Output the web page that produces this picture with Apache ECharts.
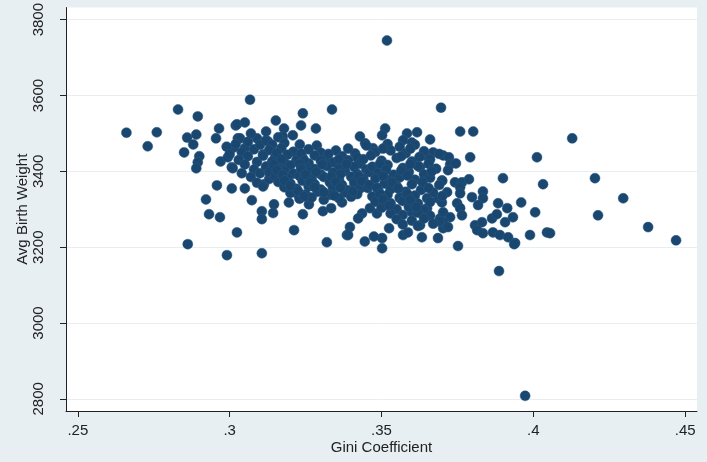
<!DOCTYPE HTML>
<html lang="en">

<head>
	<meta charset="utf-8">
	<title>Avg Birth Weight vs Gini Coefficient</title>
	<style>
		html, body {
			margin: 0;
			padding: 0;
			background: #e8eff2;
		}

		#chart {
			width: 707px;
			height: 462px;
		}
	</style>
</head>

<body>
	<div id="chart"></div>

	<script src="https://cdn.jsdelivr.net/npm/echarts@6/dist/echarts.min.js"></script>

	<script>
		// tick labels
		var xTicks = [0.25, 0.3, 0.35, 0.4, 0.45];
		var yTicks = [2800, 3000, 3200, 3400, 3600, 3800];

		// [gini, avg birth weight]
		var sparsePoints = [
			[0.266, 3502], [0.273, 3466], [0.276, 3503], [0.283, 3563], [0.2895, 3545], [0.286, 3489],
			[0.289, 3497], [0.288, 3471], [0.285, 3450], [0.290, 3440], [0.2895, 3424], [0.289, 3408],
			[0.2965, 3513], [0.2955, 3487], [0.297, 3426], [0.2994, 3437], [0.3007, 3411], [0.302, 3521],
			[0.3027, 3487], [0.2958, 3363], [0.3007, 3355], [0.2922, 3326], [0.2932, 3287], [0.2968, 3279],
			[0.3024, 3239], [0.2862, 3208], [0.2991, 3179],
			[0.3067, 3589], [0.3337, 3563], [0.3024, 3524], [0.305, 3529], [0.3152, 3534], [0.3241, 3553],
			[0.3235, 3521], [0.3284, 3513], [0.3179, 3513], [0.3208, 3495], [0.3175, 3492], [0.3034, 3487],
			[0.309, 3487], [0.3126, 3479], [0.3014, 3463], [0.305, 3461], [0.3287, 3468], [0.3231, 3471],
			[0.305, 3355], [0.3073, 3324], [0.3113, 3366], [0.3146, 3313], [0.3106, 3295], [0.3106, 3274],
			[0.3143, 3290], [0.3195, 3318], [0.3225, 3339], [0.3241, 3287], [0.3261, 3313], [0.3307, 3295],
			[0.3334, 3303], [0.337, 3318], [0.3212, 3245], [0.332, 3213], [0.3386, 3232], [0.3106, 3184],
			[0.3696, 3568], [0.3512, 3513], [0.3502, 3495], [0.3429, 3492], [0.3446, 3474], [0.3584, 3500],
			[0.3617, 3503], [0.3571, 3482], [0.36, 3476], [0.366, 3484], [0.3472, 3461], [0.3413, 3447],
			[0.338, 3416], [0.367, 3450], [0.3643, 3442], [0.3627, 3411], [0.3703, 3442],
			[0.3396, 3253], [0.339, 3232], [0.3436, 3289], [0.3423, 3276], [0.3485, 3289], [0.3525, 3250],
			[0.3502, 3224], [0.3502, 3197], [0.3571, 3232], [0.3587, 3239], [0.3633, 3226], [0.3686, 3224],
			[0.3627, 3258], [0.3693, 3276], [0.3703, 3250], [0.36, 3292], [0.365, 3303], [0.3561, 3329],
			[0.3686, 3329], [0.3512, 3311], [0.3462, 3303], [0.3445, 3215], [0.3475, 3228]
		];

		var rightPoints = [
			[0.3759, 3505], [0.3802, 3505], [0.4012, 3437], [0.3792, 3437], [0.3722, 3437], [0.3726, 3418],
			[0.3745, 3421], [0.3719, 3403], [0.39, 3382], [0.4032, 3366], [0.3699, 3376], [0.3742, 3371],
			[0.3765, 3371], [0.3788, 3379], [0.3759, 3358], [0.3716, 3345], [0.3759, 3342], [0.3798, 3332],
			[0.3834, 3347], [0.3834, 3329], [0.3818, 3311], [0.3699, 3318], [0.3749, 3316], [0.3759, 3303],
			[0.3884, 3316], [0.3914, 3303], [0.396, 3318], [0.4006, 3292], [0.3703, 3292], [0.3726, 3279],
			[0.3765, 3284], [0.3703, 3266], [0.3864, 3276], [0.388, 3287], [0.3907, 3266], [0.3933, 3279],
			[0.3808, 3258], [0.3831, 3266], [0.3815, 3245], [0.3834, 3237], [0.3719, 3253], [0.3867, 3239],
			[0.389, 3232], [0.3917, 3226], [0.394, 3211], [0.3989, 3232], [0.4045, 3239], [0.3752, 3203],
			[0.4128, 3487], [0.4203, 3382], [0.4296, 3329], [0.4213, 3284], [0.4378, 3253], [0.447, 3218],
			[0.4055, 3237], [0.3937, 3208], [0.3887, 3137]
		];

		var outlierPoints = [[0.3518, 3745], [0.3973, 2808]];

		var denseLeft = [
			[0.299, 3465], [0.302, 3472], [0.304, 3450], [0.306, 3478], [0.308, 3458], [0.310, 3470],
			[0.312, 3482], [0.300, 3445], [0.303, 3430], [0.306, 3440], [0.309, 3425], [0.311, 3445],
			[0.305, 3418], [0.308, 3405], [0.310, 3395], [0.312, 3410], [0.301, 3408], [0.304, 3395],
			[0.307, 3385], [0.309, 3370], [0.311, 3360], [0.313, 3380], [0.314, 3470], [0.316, 3490],
			[0.318, 3475], [0.307, 3500], [0.312, 3505]
		];

		var denseMiddle = [
			[0.313, 3456], [0.317, 3461], [0.321, 3452], [0.326, 3458], [0.330, 3449], [0.335, 3455], [0.339, 3460],
			[0.311, 3441], [0.315, 3437], [0.319, 3444], [0.324, 3436], [0.328, 3442], [0.332, 3434], [0.337, 3440], [0.342, 3436],
			[0.314, 3426], [0.318, 3423], [0.322, 3430], [0.326, 3421], [0.330, 3428], [0.334, 3424], [0.339, 3429], [0.343, 3420],
			[0.312, 3413], [0.316, 3409], [0.320, 3416], [0.325, 3411], [0.328, 3406], [0.332, 3414], [0.336, 3408], [0.341, 3412], [0.345, 3405],
			[0.313, 3398], [0.318, 3401], [0.321, 3394], [0.326, 3399], [0.330, 3392], [0.334, 3397], [0.338, 3401], [0.342, 3393], [0.346, 3398],
			[0.315, 3386], [0.319, 3382], [0.323, 3388], [0.327, 3380], [0.331, 3385], [0.336, 3379], [0.340, 3386], [0.344, 3381],
			[0.316, 3372], [0.320, 3368], [0.324, 3375], [0.328, 3366], [0.333, 3371], [0.337, 3364], [0.341, 3370], [0.345, 3366],
			[0.318, 3358], [0.322, 3354], [0.326, 3360], [0.330, 3352], [0.334, 3357], [0.339, 3350], [0.343, 3355],
			[0.320, 3343], [0.325, 3339], [0.329, 3346], [0.333, 3338], [0.338, 3344], [0.342, 3340],
			[0.323, 3328], [0.327, 3331], [0.331, 3325], [0.336, 3329], [0.340, 3333],
			[0.3155, 3448], [0.3235, 3447], [0.3325, 3446], [0.317, 3432], [0.3245, 3429], [0.336, 3432],
			[0.3145, 3418], [0.323, 3420], [0.3305, 3418], [0.3385, 3419], [0.3155, 3403], [0.3235, 3406],
			[0.3285, 3398], [0.3365, 3393], [0.3175, 3391], [0.325, 3392], [0.3335, 3386], [0.3425, 3387],
			[0.318, 3376], [0.3265, 3371], [0.335, 3372], [0.3435, 3374], [0.32, 3362], [0.328, 3358],
			[0.3365, 3357], [0.3455, 3356], [0.3225, 3348], [0.331, 3345], [0.3405, 3347], [0.3245, 3334],
			[0.3345, 3336]
		];

		var denseRight = [
			[0.345, 3468], [0.352, 3472], [0.356, 3465], [0.361, 3470],
			[0.348, 3451], [0.353, 3455], [0.358, 3448], [0.364, 3453], [0.369, 3446],
			[0.344, 3432], [0.350, 3428], [0.355, 3435], [0.360, 3426], [0.366, 3431],
			[0.347, 3412], [0.352, 3417], [0.357, 3409], [0.362, 3414], [0.368, 3407],
			[0.349, 3396], [0.354, 3391], [0.359, 3398], [0.364, 3392],
			[0.348, 3381], [0.352, 3377], [0.356, 3384], [0.361, 3378], [0.366, 3383], [0.370, 3375],
			[0.346, 3364], [0.351, 3368], [0.355, 3361], [0.360, 3366], [0.364, 3359], [0.369, 3364],
			[0.349, 3349], [0.353, 3353], [0.358, 3346], [0.363, 3351], [0.367, 3344],
			[0.347, 3334], [0.352, 3338], [0.356, 3331], [0.361, 3336], [0.365, 3329], [0.370, 3335],
			[0.348, 3320], [0.353, 3316], [0.357, 3322], [0.362, 3315], [0.366, 3319],
			[0.350, 3304], [0.355, 3300], [0.359, 3306], [0.364, 3298],
			[0.353, 3289], [0.357, 3285], [0.362, 3291], [0.366, 3283],
			[0.355, 3274], [0.360, 3270], [0.364, 3276], [0.369, 3268],
			[0.357, 3260], [0.362, 3256], [0.367, 3262],
			[0.3505, 3460], [0.3595, 3460], [0.3465, 3442], [0.3565, 3440], [0.3625, 3438], [0.3495, 3420],
			[0.3595, 3419], [0.3655, 3420], [0.3515, 3404], [0.3565, 3402], [0.3665, 3400], [0.3505, 3388],
			[0.3585, 3389], [0.3635, 3372], [0.3535, 3371], [0.3485, 3357], [0.3555, 3355], [0.3655, 3356],
			[0.3495, 3340], [0.3585, 3340], [0.3505, 3326], [0.3595, 3325], [0.3525, 3310], [0.3615, 3306]
		];

		var allPoints = [].concat(sparsePoints, rightPoints, outlierPoints, denseLeft, denseMiddle, denseRight);

		var chart = echarts.init(document.getElementById('chart'));

		var labelFont = {
			color: '#222',
			fontFamily: 'Liberation Sans',
			fontSize: 15
		};

		chart.setOption({
			backgroundColor: '#e8eff2',
			animation: false,
			grid: {
				left: 66,
				right: 10,
				top: 7,
				bottom: 51,
				show: true,
				backgroundColor: '#ffffff',
				borderWidth: 0
			},
			xAxis: {
				type: 'value',
				min: 0.2461,
				max: 0.4539,
				name: 'Gini Coefficient',
				nameLocation: 'middle',
				nameGap: 29,
				nameMoveOverlap: false,
				nameTextStyle: { color: '#222', fontFamily: 'Liberation Sans', fontSize: 15 },
				axisLine: { show: true, onZero: false, lineStyle: { color: '#222', width: 1 } },
				axisTick: { show: true, length: 6, customValues: xTicks, lineStyle: { color: '#222' } },
				axisLabel: Object.assign({
					margin: 12,
					customValues: xTicks,
					formatter: function (v) {
						return String(+v.toFixed(2)).replace(/^0/, '');
					}
				}, labelFont),
				splitLine: { show: false }
			},
			yAxis: {
				type: 'value',
				min: 2768,
				max: 3832,
				name: 'Avg Birth Weight',
				nameLocation: 'middle',
				nameGap: 36,
				nameMoveOverlap: false,
				nameTextStyle: { color: '#222', fontFamily: 'Liberation Sans', fontSize: 15 },
				axisLine: { show: true, onZero: false, lineStyle: { color: '#222', width: 1 } },
				axisTick: { show: true, length: 6, customValues: yTicks, lineStyle: { color: '#222' } },
				axisLabel: Object.assign({
					margin: 20,
					rotate: 90,
					customValues: yTicks,
					formatter: function (v) {
						return String(Math.round(v));
					}
				}, labelFont),
				splitLine: { show: true, lineStyle: { color: '#e6eef0', width: 1 } }
			},
			series: [{
				type: 'scatter',
				data: allPoints,
				symbol: 'circle',
				symbolSize: 10,
				itemStyle: {
					color: '#1a476f',
					borderColor: '#2a5a84',
					borderWidth: 0.5,
					opacity: 1
				}
			}]
		});
	</script>
</body>

</html>
